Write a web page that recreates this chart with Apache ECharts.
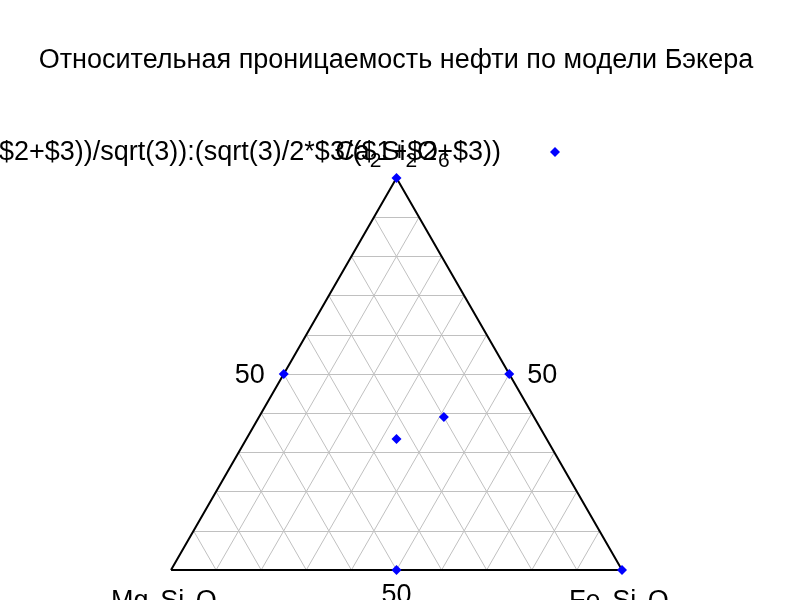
<!DOCTYPE html>
<html><head><meta charset="utf-8">
<script src="https://cdn.jsdelivr.net/npm/echarts@6/dist/echarts.min.js"></script>
<style>html,body{margin:0;padding:0;background:#fff}#c{width:800px;height:600px}</style>
</head><body><div id="c"></div>
<script>
// Ternary data: [a (Mg2Si2O6), b (Fe2Si2O6), c (Ca2Si2O6)]
var pointsA = [0, 0.5, 0, 0.5, 0, 0.20, 0.333];
var pointsB = [0, 0, 0.5, 0.5, 1, 0.41, 0.333];
var pointsC = [1, 0.5, 0.5, 0, 0, 0.39, 0.334];
var gridTicks = [0.1, 0.2, 0.3, 0.4, 0.5, 0.6, 0.7, 0.8, 0.9];
var titleText = 'Относительная проницаемость нефти по модели Бэкера';
var keyText = '(2*$1+$2+$3))/sqrt(3)):(sqrt(3)/2*$3/($1+$2+$3))';
var cornerLabels = ['{n|Mg}{s|2}{n|Si}{s|2}{n|O}{s|6}', '{n|Fe}{s|2}{n|Si}{s|2}{n|O}{s|6}', '{n|Ca}{s|2}{n|Si}{s|2}{n|O}{s|6}'];
var tickLabel = '50';

var H = Math.sqrt(3) / 2;
function tern(a, b, c) { var s = a + b + c; return [(b + c / 2) / s, H * c / s]; }

var gridSegs = [];
gridTicks.forEach(function (t) {
  gridSegs.push({coords: [tern(1 - t, 0, t), tern(0, 1 - t, t)]});
  gridSegs.push({coords: [tern(t, 1 - t, 0), tern(t, 0, 1 - t)]});
  gridSegs.push({coords: [tern(1 - t, t, 0), tern(0, t, 1 - t)]});
});
var border = [tern(1, 0, 0), tern(0, 1, 0), tern(0, 0, 1), tern(1, 0, 0)];
var pts = pointsA.map(function (a, i) { return tern(a, pointsB[i], pointsC[i]); });

var FONT = '"Liberation Sans", Arial, sans-serif';
var FS = 27;
var rich = {
  n: {fontFamily: FONT, fontSize: FS, lineHeight: FS, verticalAlign: 'top', color: '#000'},
  s: {fontFamily: FONT, fontSize: 21, lineHeight: 21, padding: [12, 0, 0, 0], verticalAlign: 'top', color: '#000'}
};
var chart = echarts.init(document.getElementById('c'), null, {renderer: 'canvas'});
chart.setOption({
  animation: false,
  backgroundColor: '#fff',
  grid: {left: 171, right: 178, top: 178, bottom: 30, containLabel: false},
  xAxis: {type: 'value', min: 0, max: 1, show: false},
  yAxis: {type: 'value', min: 0, max: H, show: false},
  series: [
    {type: 'lines', coordinateSystem: 'cartesian2d', data: gridSegs, silent: true,
     lineStyle: {color: '#c0c0c0', width: 1, opacity: 1}, z: 1},
    {type: 'line', data: border, symbol: 'none', lineStyle: {color: '#000', width: 2}, z: 2},
    {type: 'scatter', data: pts, symbol: 'diamond', symbolSize: 10, itemStyle: {color: '#0000ff', opacity: 1}, z: 5},
    {type: 'scatter', data: [
        {value: tern(0.5, 0, 0.5), label: {formatter: tickLabel, position: [-19, 2], align: 'right', verticalAlign: 'middle'}},
        {value: tern(0, 0.5, 0.5), label: {formatter: tickLabel, position: [18, 2], align: 'left', verticalAlign: 'middle'}},
        {value: tern(0.5, 0.5, 0), label: {formatter: tickLabel, position: [0, 26], align: 'center', verticalAlign: 'middle'}},
        {value: tern(1, 0, 0), label: {formatter: cornerLabels[0], rich: rich, position: [-60, 18], align: 'left', verticalAlign: 'top'}},
        {value: tern(0, 1, 0), label: {formatter: cornerLabels[1], rich: rich, position: [-53, 18], align: 'left', verticalAlign: 'top'}},
        {value: tern(0, 0, 1), label: {formatter: cornerLabels[2], rich: rich, position: [-4, -39], align: 'center', verticalAlign: 'top'}}
      ], symbolSize: 0, itemStyle: {opacity: 1}, z: 6, silent: true,
     label: {show: true, color: '#000', fontFamily: FONT, fontSize: FS}}
  ],
  graphic: [
    {type: 'text', x: 396, y: 61, z: 10, style: {text: titleText, font: FS + 'px ' + FONT, fill: '#000', align: 'center', verticalAlign: 'middle'}},
    {type: 'text', x: 501, y: 153, z: 10, style: {text: keyText, font: FS + 'px ' + FONT, fill: '#000', align: 'right', verticalAlign: 'middle'}},
    {type: 'polygon', z: 10, shape: {points: [[555, 147], [560, 152], [555, 157], [550, 152]]}, style: {fill: '#0000ff'}}
  ]
});
</script></body></html>
